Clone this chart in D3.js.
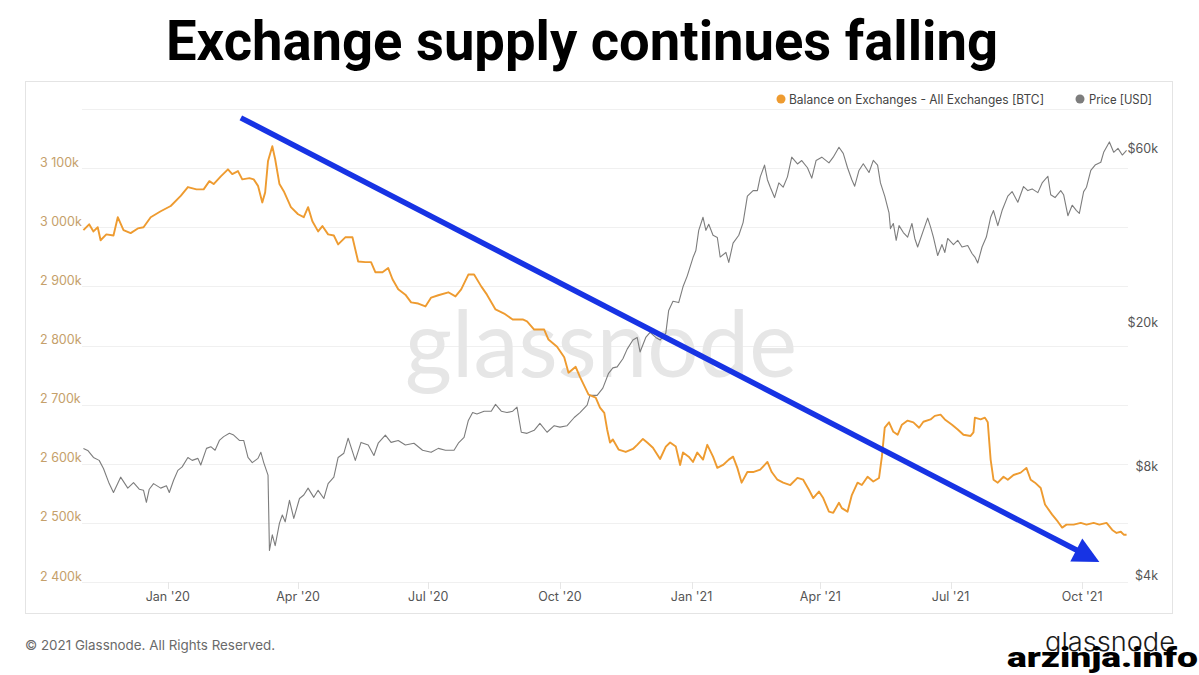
<!DOCTYPE html>
<html><head><meta charset="utf-8">
<script src="https://cdn.jsdelivr.net/npm/d3@7"></script>
<style>
html,body{margin:0;padding:0;background:#fff;}
svg{display:block;}
</style></head><body>
<svg id="chart" width="1199" height="675"></svg>
<script>
// ---------- DATA ----------
const balanceDates = ["2019-11-03","2019-11-07","2019-11-10","2019-11-13","2019-11-15","2019-11-19","2019-11-24","2019-11-27","2019-12-01","2019-12-06","2019-12-11","2019-12-15","2019-12-20","2019-12-27","2020-01-03","2020-01-10","2020-01-15","2020-01-21","2020-01-26","2020-01-30","2020-02-02","2020-02-07","2020-02-12","2020-02-15","2020-02-19","2020-02-22","2020-02-27","2020-03-01","2020-03-04","2020-03-07","2020-03-09","2020-03-11","2020-03-14","2020-03-16","2020-03-19","2020-03-22","2020-03-27","2020-04-01","2020-04-05","2020-04-08","2020-04-11","2020-04-15","2020-04-18","2020-04-22","2020-04-26","2020-04-29","2020-05-04","2020-05-09","2020-05-13","2020-05-18","2020-05-22","2020-05-25","2020-05-30","2020-06-03","2020-06-06","2020-06-10","2020-06-15","2020-06-19","2020-06-24","2020-06-29","2020-07-03","2020-07-08","2020-07-15","2020-07-20","2020-07-24","2020-07-29","2020-08-02","2020-08-07","2020-08-11","2020-08-17","2020-08-23","2020-08-29","2020-09-05","2020-09-08","2020-09-13","2020-09-20","2020-09-23","2020-09-29","2020-10-04","2020-10-07","2020-10-12","2020-10-15","2020-10-21","2020-10-26","2020-10-29","2020-11-01","2020-11-03","2020-11-05","2020-11-07","2020-11-11","2020-11-16","2020-11-21","2020-11-24","2020-11-28","2020-12-01","2020-12-05","2020-12-10","2020-12-14","2020-12-17","2020-12-21","2020-12-24","2020-12-26","2020-12-30","2021-01-02","2021-01-05","2021-01-09","2021-01-12","2021-01-16","2021-01-19","2021-01-23","2021-01-27","2021-01-30","2021-02-02","2021-02-05","2021-02-09","2021-02-13","2021-02-18","2021-02-23","2021-02-26","2021-03-02","2021-03-06","2021-03-11","2021-03-16","2021-03-20","2021-03-24","2021-03-27","2021-03-31","2021-04-03","2021-04-07","2021-04-10","2021-04-14","2021-04-16","2021-04-20","2021-04-23","2021-04-27","2021-04-30","2021-05-04","2021-05-08","2021-05-12","2021-05-14","2021-05-16","2021-05-19","2021-05-22","2021-05-25","2021-05-28","2021-06-01","2021-06-05","2021-06-09","2021-06-12","2021-06-17","2021-06-20","2021-06-24","2021-06-27","2021-07-02","2021-07-06","2021-07-10","2021-07-15","2021-07-17","2021-07-18","2021-07-22","2021-07-25","2021-07-27","2021-07-29","2021-07-31","2021-08-03","2021-08-07","2021-08-10","2021-08-14","2021-08-19","2021-08-23","2021-08-26","2021-08-29","2021-09-02","2021-09-05","2021-09-10","2021-09-14","2021-09-17","2021-09-20","2021-09-25","2021-09-30","2021-10-04","2021-10-09","2021-10-13","2021-10-18","2021-10-22","2021-10-25","2021-10-28","2021-10-30","2021-11-01"];
const balanceValues = [2995000,3005000,2993000,3000000,2978000,2988000,2986000,3017000,2995000,2990000,2998000,3000000,3017000,3027000,3036000,3053000,3068000,3064000,3064000,3078000,3073000,3086000,3098000,3090000,3095000,3081000,3083000,3081000,3070000,3042000,3059000,3112000,3137000,3115000,3073000,3061000,3034000,3022000,3017000,3034000,3010000,2993000,3002000,2988000,2986000,2971000,2983000,2983000,2942000,2941000,2941000,2924000,2924000,2931000,2912000,2895000,2886000,2873000,2871000,2866000,2881000,2885000,2890000,2883000,2895000,2920000,2920000,2900000,2886000,2861000,2854000,2844000,2844000,2841000,2827000,2827000,2810000,2798000,2780000,2754000,2764000,2747000,2717000,2712000,2695000,2686000,2658000,2636000,2641000,2624000,2620000,2625000,2632000,2642000,2636000,2627000,2608000,2629000,2636000,2629000,2598000,2619000,2612000,2603000,2619000,2607000,2632000,2612000,2593000,2598000,2607000,2612000,2593000,2568000,2586000,2586000,2590000,2603000,2586000,2573000,2568000,2564000,2576000,2573000,2556000,2542000,2553000,2542000,2519000,2517000,2534000,2525000,2519000,2547000,2568000,2564000,2578000,2570000,2576000,2612000,2661000,2670000,2654000,2649000,2666000,2673000,2670000,2661000,2671000,2675000,2681000,2683000,2675000,2666000,2658000,2649000,2647000,2653000,2678000,2675000,2678000,2670000,2607000,2573000,2568000,2578000,2573000,2581000,2585000,2593000,2573000,2568000,2559000,2531000,2514000,2502000,2492000,2497000,2497000,2500000,2497000,2500000,2497000,2500000,2488000,2483000,2485000,2480000,2480000];

const priceDates = ["2019-11-03","2019-11-06","2019-11-10","2019-11-14","2019-11-17","2019-11-21","2019-11-24","2019-11-29","2019-12-04","2019-12-08","2019-12-12","2019-12-15","2019-12-17","2019-12-19","2019-12-22","2019-12-27","2019-12-31","2020-01-02","2020-01-05","2020-01-08","2020-01-11","2020-01-15","2020-01-18","2020-01-22","2020-01-24","2020-01-28","2020-01-31","2020-02-03","2020-02-06","2020-02-09","2020-02-13","2020-02-16","2020-02-20","2020-02-23","2020-02-26","2020-02-29","2020-03-04","2020-03-06","2020-03-08","2020-03-11","2020-03-12","2020-03-14","2020-03-16","2020-03-19","2020-03-21","2020-03-23","2020-03-26","2020-03-29","2020-04-02","2020-04-05","2020-04-08","2020-04-12","2020-04-15","2020-04-19","2020-04-22","2020-04-26","2020-04-29","2020-05-03","2020-05-06","2020-05-11","2020-05-15","2020-05-20","2020-05-24","2020-05-27","2020-06-01","2020-06-05","2020-06-10","2020-06-15","2020-06-21","2020-06-27","2020-07-03","2020-07-08","2020-07-13","2020-07-19","2020-07-22","2020-07-26","2020-07-29","2020-08-01","2020-08-04","2020-08-09","2020-08-14","2020-08-17","2020-08-21","2020-08-25","2020-08-29","2020-09-01","2020-09-04","2020-09-08","2020-09-13","2020-09-17","2020-09-22","2020-09-27","2020-10-01","2020-10-06","2020-10-11","2020-10-15","2020-10-20","2020-10-22","2020-10-27","2020-10-31","2020-11-04","2020-11-07","2020-11-10","2020-11-14","2020-11-17","2020-11-21","2020-11-24","2020-11-26","2020-11-30","2020-12-03","2020-12-07","2020-12-10","2020-12-14","2020-12-16","2020-12-19","2020-12-23","2020-12-26","2020-12-29","2021-01-02","2021-01-04","2021-01-06","2021-01-09","2021-01-11","2021-01-13","2021-01-16","2021-01-19","2021-01-21","2021-01-25","2021-01-27","2021-01-30","2021-02-03","2021-02-06","2021-02-09","2021-02-13","2021-02-16","2021-02-18","2021-02-21","2021-02-23","2021-02-25","2021-02-28","2021-03-03","2021-03-06","2021-03-09","2021-03-12","2021-03-16","2021-03-19","2021-03-23","2021-03-26","2021-03-29","2021-04-02","2021-04-07","2021-04-10","2021-04-14","2021-04-17","2021-04-20","2021-04-23","2021-04-25","2021-04-28","2021-05-01","2021-05-05","2021-05-08","2021-05-11","2021-05-13","2021-05-16","2021-05-19","2021-05-20","2021-05-22","2021-05-24","2021-05-26","2021-05-29","2021-06-01","2021-06-04","2021-06-06","2021-06-08","2021-06-12","2021-06-15","2021-06-17","2021-06-19","2021-06-22","2021-06-25","2021-06-27","2021-06-29","2021-07-03","2021-07-06","2021-07-09","2021-07-13","2021-07-16","2021-07-18","2021-07-20","2021-07-23","2021-07-26","2021-07-29","2021-07-31","2021-08-03","2021-08-06","2021-08-10","2021-08-13","2021-08-17","2021-08-21","2021-08-24","2021-08-27","2021-08-31","2021-09-03","2021-09-07","2021-09-09","2021-09-12","2021-09-16","2021-09-18","2021-09-21","2021-09-24","2021-09-27","2021-09-29","2021-10-02","2021-10-04","2021-10-07","2021-10-10","2021-10-14","2021-10-16","2021-10-20","2021-10-23","2021-10-26","2021-10-29","2021-11-01"];
const priceValues = [9290,9170,8770,8610,8180,7430,7020,7740,7220,7480,7170,7120,6600,7170,7430,7220,7330,7020,7590,8080,8260,8770,8610,8720,8360,9290,9390,9180,9770,10010,10220,10110,9770,9770,8770,8490,8720,9060,8490,7840,4860,5370,5010,5780,6090,5830,6680,5960,6760,6910,7220,6810,7120,6760,7430,7740,8770,9010,9910,8610,9650,9490,8880,9600,10110,9650,9770,9490,9600,9180,9060,9290,9180,9180,9600,9960,11090,11660,11560,11760,11760,12280,11760,11660,11760,12070,10290,10220,10420,10890,10290,10730,10630,10730,11300,11660,12230,13000,13000,13620,14960,15480,15580,16410,17440,18470,18780,17130,18780,19400,18780,18470,19300,22290,23630,23430,25900,27760,31170,32610,37050,40250,37050,38490,35910,35400,31270,32200,30240,34160,35910,38910,46030,47680,47680,52010,56040,51080,48710,45610,50050,48710,52010,58930,56450,57690,55110,51600,57690,58930,56860,58930,62750,60370,55110,51080,49020,54180,56500,53460,57750,56040,50050,46030,41380,37460,38700,34780,38180,36530,35500,38700,35190,33330,37050,40040,37870,35500,31580,33850,32200,35190,33850,34780,33330,33640,31990,31270,30130,33330,35500,40250,42000,38180,42000,46030,47370,44270,48920,47680,48190,47060,50050,52220,46440,45610,47680,46440,40660,43450,42000,41280,47370,48710,54180,56040,57070,60790,64910,60790,62330,59750,61510];

const balanceTicks = [2400000,2500000,2600000,2700000,2800000,2900000,3000000,3100000,3200000];
const priceTicks = [4000, 8000, 20000, 60000];
const priceTickLabels = ["$4k","$8k","$20k","$60k"];
const monthTicks = ["2020-01-01","2020-04-01","2020-07-01","2020-10-01","2021-01-01","2021-04-01","2021-07-01","2021-10-01"];
const trendDates = ["2020-02-21","2021-10-13"];
const trendValues = [3185000, 2434000];
const legendLabels = ["Balance on Exchanges - All Exchanges [BTC]", "Price [USD]"];

// ---------- DRAW ----------
const svg = d3.select("#chart");
const parse = d3.utcParse("%Y-%m-%d");
const P = {left:82, right:1128, top:109, bottom:582};
const FONT = "Inter, 'Noto Sans', Roboto, sans-serif";
const ORANGE = "#ee9b30", GREY = "#7d7d7d";

const x = d3.scaleUtc().domain([parse("2019-11-02"), parse("2021-11-02")]).range([P.left, P.right]);
const yL = d3.scaleLinear().domain([2400000, 3200000]).range([P.bottom, P.top]);
const yR = d3.scaleLog().domain([3980, 80000]).range([P.bottom, P.top]);

svg.append("rect").attr("width",1199).attr("height",675).attr("fill","#fff");

// Title
svg.append("text").attr("x",166).attr("y",60)
  .attr("font-family","Roboto, 'Liberation Sans', Arial, sans-serif").attr("font-weight",700)
  .attr("font-size",56).attr("textLength",832).attr("lengthAdjust","spacingAndGlyphs")
  .attr("fill","#000").text("Exchange supply continues falling");

// Panel
svg.append("rect").attr("x",25.5).attr("y",81.5).attr("width",1147).attr("height",532)
  .attr("fill","#fff").attr("stroke","#e4e4e4").attr("stroke-width",1);

// Gridlines
svg.append("g").selectAll("line").data(balanceTicks).join("line")
  .attr("x1",P.left).attr("x2",P.right)
  .attr("y1",d=>Math.round(yL(d))+0.5).attr("y2",d=>Math.round(yL(d))+0.5)
  .attr("stroke","#f0f0f0").attr("stroke-width",1);

// Left axis labels
const fmtK = d3.formatLocale({decimal:".", thousands:" ", grouping:[3], currency:["",""]}).format(",d");
svg.append("g").selectAll("text").data(balanceTicks.filter(d=>d<3200000)).join("text")
  .attr("x",40).attr("y",d=>yL(d)-1.5)
  .attr("font-family",FONT).attr("font-size",12.5).attr("fill","#c5a06a")
  .text(d=>fmtK(d/1000)+"k");

// Right axis labels
svg.append("g").selectAll("text").data(priceTicks).join("text")
  .attr("x",1158).attr("y",d=>yR(d)-1).attr("text-anchor","end")
  .attr("font-family",FONT).attr("font-size",12.5).attr("fill","#555")
  .text((d,i)=>priceTickLabels[i]);

// X axis ticks + labels
const xt = svg.append("g");
xt.selectAll("line").data(monthTicks).join("line")
  .attr("x1",d=>Math.round(x(parse(d)))+0.5).attr("x2",d=>Math.round(x(parse(d)))+0.5)
  .attr("y1",P.bottom).attr("y2",P.bottom+7).attr("stroke","#e6e6e6");
xt.selectAll("text").data(monthTicks).join("text")
  .attr("x",d=>x(parse(d))).attr("y",601).attr("text-anchor","middle")
  .attr("font-family",FONT).attr("font-size",12.5).attr("fill","#555")
  .text(d=>d3.utcFormat("%b '%y")(parse(d)));

// Watermark
svg.append("text").attr("x",405).attr("y",377)
  .attr("font-family","Lato, 'Open Sans', sans-serif").attr("font-weight",400)
  .attr("font-size",93).attr("textLength",392).attr("lengthAdjust","spacingAndGlyphs")
  .attr("fill","#e6e6e6").text("glassnode");

// Legend
const lg = svg.append("g").attr("font-family",FONT).attr("font-size",12.5).attr("fill","#444");
lg.append("circle").attr("cx",781).attr("cy",99).attr("r",4.5).attr("fill",ORANGE);
lg.append("text").attr("x",789).attr("y",103.5).attr("textLength",255).attr("lengthAdjust","spacingAndGlyphs").text(legendLabels[0]);
lg.append("circle").attr("cx",1080).attr("cy",99).attr("r",4.5).attr("fill",GREY);
lg.append("text").attr("x",1089).attr("y",103.5).attr("textLength",63).attr("lengthAdjust","spacingAndGlyphs").text(legendLabels[1]);

// Series
const priceData = priceDates.map((d,i)=>({date:parse(d), v:priceValues[i]}));
const balData = balanceDates.map((d,i)=>({date:parse(d), v:balanceValues[i]}));

svg.append("path").datum(priceData)
  .attr("d", d3.line().x(d=>x(d.date)).y(d=>yR(d.v)))
  .attr("fill","none").attr("stroke",GREY).attr("stroke-width",1.1).attr("stroke-linejoin","round");

svg.append("path").datum(balData)
  .attr("d", d3.line().x(d=>x(d.date)).y(d=>yL(d.v)))
  .attr("fill","none").attr("stroke",ORANGE).attr("stroke-width",1.9).attr("stroke-linejoin","round");

// Trend arrow
const p0 = [x(parse(trendDates[0])), yL(trendValues[0])];
const p1 = [x(parse(trendDates[1])), yL(trendValues[1])];
const dx = p1[0]-p0[0], dy = p1[1]-p0[1], len = Math.hypot(dx,dy);
const ux = dx/len, uy = dy/len, nx = -uy, ny = ux;
const headL = 26, headW = 13;
const back = [p1[0]-headL*ux, p1[1]-headL*uy];
const BLUE = "#1733e4";
svg.append("line").attr("x1",p0[0]).attr("y1",p0[1])
  .attr("x2",back[0]+4*ux).attr("y2",back[1]+4*uy)
  .attr("stroke",BLUE).attr("stroke-width",5.5);
svg.append("polygon")
  .attr("points",[p1,[back[0]+headW*nx, back[1]+headW*ny],[back[0]-headW*nx, back[1]-headW*ny]].map(p=>p.join(",")).join(" "))
  .attr("fill",BLUE);

// Footer
svg.append("text").attr("x",25).attr("y",650)
  .attr("font-family",FONT).attr("font-size",13.5).attr("fill","#6a6a6a")
  .attr("textLength",250).attr("lengthAdjust","spacingAndGlyphs")
  .text("© 2021 Glassnode. All Rights Reserved.");
svg.append("text").attr("x",1045).attr("y",651)
  .attr("font-family","Inter, Lato, sans-serif").attr("font-weight",300)
  .attr("font-size",26).attr("textLength",130).attr("lengthAdjust","spacingAndGlyphs")
  .attr("fill","#1a1a1a").text("glassnode");
svg.append("text").attr("x",1007).attr("y",667)
  .attr("font-family","Roboto, 'Liberation Sans', sans-serif").attr("font-weight",900)
  .attr("font-size",28).attr("textLength",191).attr("lengthAdjust","spacingAndGlyphs")
  .attr("fill","#000").text("arzinja.info");
</script>
</body></html>
